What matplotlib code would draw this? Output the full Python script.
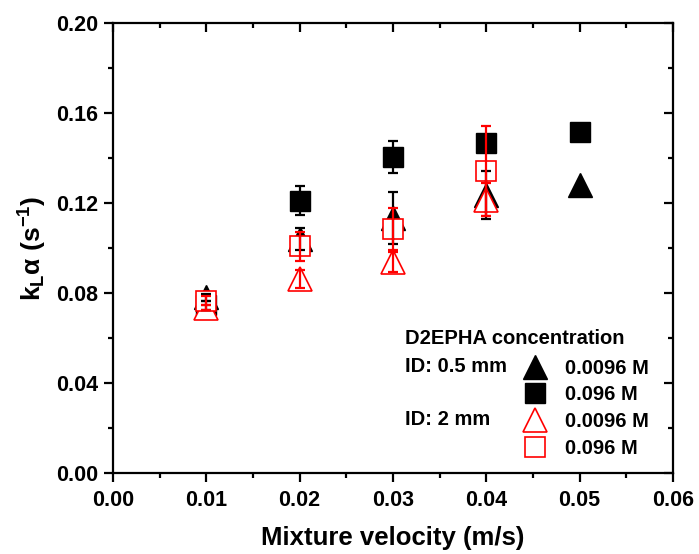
import numpy as np
import matplotlib
matplotlib.use('Agg')
import matplotlib.pyplot as plt
from matplotlib.lines import Line2D
from matplotlib.ticker import MultipleLocator, FormatStrFormatter

plt.rcParams['font.family'] = ['Liberation Sans', 'DejaVu Sans']
plt.rcParams['font.weight'] = 'bold'
plt.rcParams['mathtext.default'] = 'regular'

# mixture velocity (m/s)
vel = [0.01, 0.02, 0.03, 0.04, 0.05]
vel_2mm = [0.01, 0.02, 0.03, 0.04]

# ID 0.5 mm
tri_05 = [0.078, 0.104, 0.1133, 0.1235, 0.128]
tri_05_err = [0.0015, 0.005, 0.0116, 0.0105, 0.0]
sq_05 = [0.0745, 0.121, 0.1405, 0.1467, 0.1516]
sq_05_err = [0.002, 0.0065, 0.007, 0.0, 0.0]

# ID 2 mm
tri_2 = [0.0735, 0.0864, 0.0938, 0.1215]
tri_2_err = [0.001, 0.004, 0.0045, 0.0073]
sq_2 = [0.0765, 0.1007, 0.1084, 0.134]
sq_2_err = [0.002, 0.0065, 0.0095, 0.020]

labels = ['0.0096 M', '0.096 M', '0.0096 M', '0.096 M']

fig = plt.figure(figsize=(6.99, 5.54), dpi=100)
ax = fig.add_axes([0.1617, 0.1462, 0.8011, 0.8123])

# markers first, error bars drawn on top (like the original)
ax.plot(vel, tri_05, '^', ms=17, color='black', mec='black', zorder=2)
ax.plot(vel, sq_05, 's', ms=14.5, color='black', mec='black', zorder=2)
ax.plot(vel_2mm, tri_2, '^', ms=17, mfc='white', mec='red', mew=1.2, zorder=3)
ax.plot(vel_2mm, sq_2, 's', ms=14.5, mfc='white', mec='red', mew=1.2, zorder=4)

ekw = dict(fmt='none', elinewidth=1.6, capsize=3.8, capthick=1.6)
ax.errorbar(vel, tri_05, yerr=tri_05_err, ecolor='black', zorder=5, **ekw)
ax.errorbar(vel, sq_05, yerr=sq_05_err, ecolor='black', zorder=5, **ekw)
ax.errorbar(vel_2mm, tri_2, yerr=tri_2_err, ecolor='red', zorder=6, **ekw)
ax.errorbar(vel_2mm, sq_2, yerr=sq_2_err, ecolor='red', zorder=6, **ekw)

ax.set_xlim(0, 0.06)
ax.set_ylim(0, 0.2)
ax.xaxis.set_major_locator(MultipleLocator(0.01))
ax.xaxis.set_minor_locator(MultipleLocator(0.005))
ax.yaxis.set_major_locator(MultipleLocator(0.04))
ax.yaxis.set_minor_locator(MultipleLocator(0.02))
ax.xaxis.set_major_formatter(FormatStrFormatter('%.2f'))
ax.yaxis.set_major_formatter(FormatStrFormatter('%.2f'))

for s in ax.spines.values():
    s.set_linewidth(1.6)
ax.tick_params(which='both', direction='out', width=1.6, labelsize=15.5, top=True, right=True)
ax.tick_params(which='major', length=6.5)
ax.tick_params(which='minor', length=3.5)
ax.tick_params(axis='y', pad=4.5)
ax.tick_params(axis='x', pad=5.5)
# top / right ticks point inwards
for t in ax.xaxis.get_major_ticks() + ax.xaxis.get_minor_ticks():
    t.tick2line.set_marker(matplotlib.lines.TICKDOWN)
for t in ax.yaxis.get_major_ticks() + ax.yaxis.get_minor_ticks():
    t.tick2line.set_marker(matplotlib.lines.TICKLEFT)
for lab in ax.get_xticklabels() + ax.get_yticklabels():
    lab.set_fontweight('bold')

ax.set_xlabel('Mixture velocity (m/s)', fontsize=18.5, fontweight='bold', labelpad=11)
ax.set_ylabel(r'k$_L$α (s$^{-1}$)', fontsize=19, fontweight='bold', labelpad=5)

# legend
handles = [
    Line2D([], [], ls='none', marker='^', ms=17, color='black'),
    Line2D([], [], ls='none', marker='s', ms=14.5, color='black'),
    Line2D([], [], ls='none', marker='^', ms=17, mfc='white', mec='red', mew=1.2),
    Line2D([], [], ls='none', marker='s', ms=14.5, mfc='white', mec='red', mew=1.2),
]
leg = ax.legend(handles, labels, loc='upper left', bbox_to_anchor=(0.731, 0.254),
                frameon=False, labelspacing=0.38, handlelength=1.24,
                handletextpad=0.87, borderpad=0, borderaxespad=0,
                prop={'weight': 'bold', 'size': 14.5})
tkw = dict(transform=ax.transAxes, fontsize=14.5, fontweight='bold', va='center')
ax.text(0.521, 0.30, 'D2EPHA concentration', **tkw)
ax.text(0.521, 0.2356, 'ID: 0.5 mm', **tkw)
ax.text(0.521, 0.118, 'ID: 2 mm', **tkw)

fig.savefig('out.png', dpi=100)
